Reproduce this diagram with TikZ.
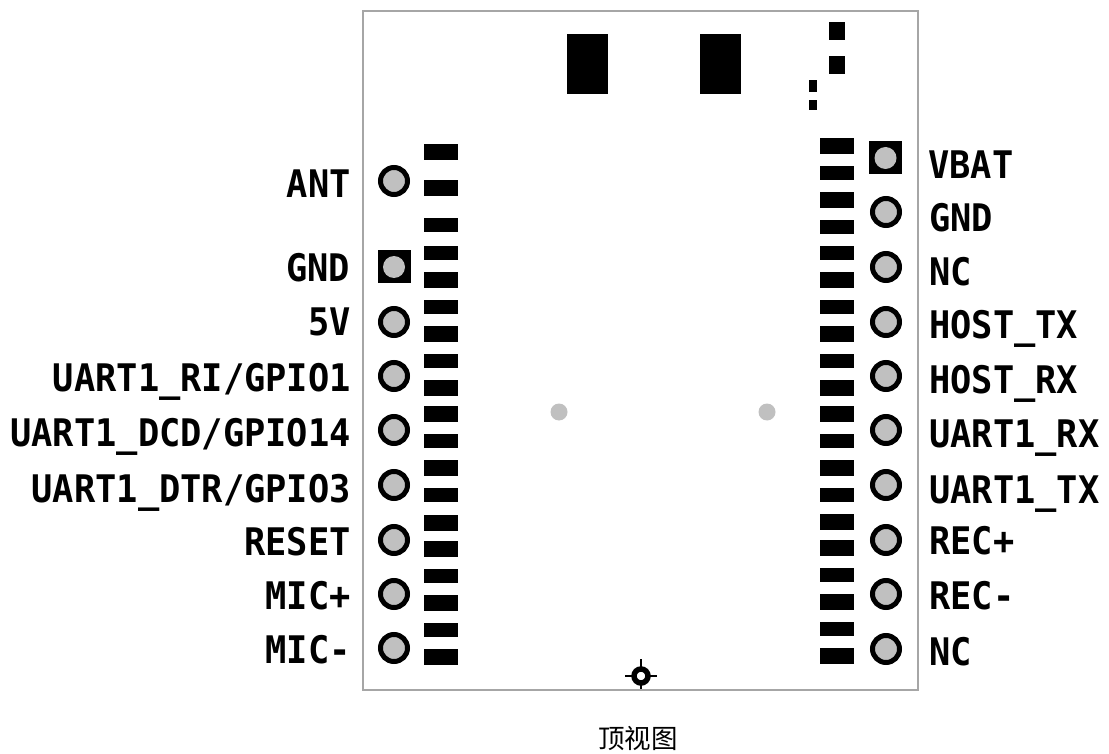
\documentclass[tikz,border=0pt]{standalone}
\usepackage{fontspec}
\usetikzlibrary{positioning}
\newfontfamily\pinfont[FakeStretch=0.93]{DejaVu Sans Mono}
\newfontfamily\cjk{Noto Sans CJK SC}
\definecolor{boardgray}{HTML}{A6A6A6}
\definecolor{pingray}{HTML}{C0C0C0}
\tikzset{
  pinround/.style={circle, draw=black, fill=pingray, line width=5pt, minimum size=27pt, inner sep=0pt},
  pinsquare/.style={rectangle, draw=none, fill=black, minimum size=33pt, inner sep=0pt},
  pinlabel/.style={font=\pinfont\bfseries\fontsize{38}{38}\selectfont, inner sep=0pt, text height=27pt, text depth=0pt}
}
\begin{document}
\begin{tikzpicture}[x=1pt, y=-1pt]

  \useasboundingbox (0,0) rectangle (1109,754);

  % Board outline
  \draw[boardgray, line width=2pt] (363,11) rectangle (918,690);

  % Top pads
  \fill (567,34) rectangle (608,94);
  \fill (700,34) rectangle (741,94);
  \fill (829,22) rectangle (845,40);
  \fill (829,56) rectangle (845,74);
  \fill (809,80) rectangle (817,92);
  \fill (809,100) rectangle (817,110);

  % Left row of pads
  \foreach \ya/\yb in {144/160, 180/196, 218/232, 246/260, 272/288, 300/314, 326/342,
      354/368, 380/396, 406/422, 434/448, 460/476, 488/502, 515/531, 541/557, 569/583,
      595/611, 623/637, 649/665}
    \fill (424,\ya) rectangle (458,\yb);

  % Right row of pads
  \foreach \ya/\yb in {138/154, 166/180, 192/208, 220/234, 246/260, 272/288, 300/314,
      326/342, 354/368, 380/396, 406/422, 434/448, 460/476, 488/502, 514/530, 540/556,
      568/582, 594/610, 622/636, 648/664}
    \fill (820,\ya) rectangle (854,\yb);

  % Square pins
  \node[pinsquare] (gndsq) at (394,267) {};
  \node[circle, fill=pingray, minimum size=22pt, inner sep=0pt] (gndhole) at (gndsq) {};
  \node[pinsquare] (vbatsq) at (885.5,158) {};
  \node[circle, fill=pingray, minimum size=22pt, inner sep=0pt] (vbathole) at (vbatsq) {};

  % Left pins and labels
  \node[pinlabel, left=27pt of gndsq, yshift=-1pt] (gndlabel) {GND};
  \foreach \name/\yy/\shift/\txt in {ant/181/-3/ANT, five/322/0/5V, ri/376/-2/{UART1\_RI/GPIO1},
      dcd/430/-3/{UART1\_DCD/GPIO14}, dtr/485/-4/{UART1\_DTR/GPIO3}, reset/540/-2/RESET,
      micp/594/-2/MIC+, micn/648/-2/MIC-}
  {
    \node[pinround] (\name) at (394,\yy) {};
    \node[pinlabel, left=27pt of \name, yshift=\shift pt] (\name label) {\txt};
  }

  % Right pins and labels
  \node[pinlabel, right=26pt of vbatsq, yshift=-7pt] (vbatlabel) {VBAT};
  \foreach \name/\yy/\shift/\txt in {rgnd/212/-6/GND, nca/267/-5/NC, htx/322/-3/HOST\_TX,
      hrx/376/-4/HOST\_RX, urx/430/-4/UART1\_RX, utx/485/-5/UART1\_TX, recp/540/-1/REC+,
      recn/594/-2/REC-, ncb/649/-3/NC}
  {
    \node[pinround] (\name) at (886,\yy) {};
    \node[pinlabel, right=27pt of \name, yshift=\shift pt] (\name label) {\txt};
  }

  % Mounting holes
  \fill[pingray] (559,412) circle (8.5);
  \fill[pingray] (767,412) circle (8.5);

  % Target mark
  \coordinate (mark) at (641,676);
  \draw[line width=1.5pt] (625,676) -- (657,676);
  \draw[line width=1.5pt] (641,659) -- (641,689);
  \draw[fill=white, line width=5.5pt] (mark) circle (7);

  % Title
  \node[font=\cjk\fontsize{26.5}{26.5}\selectfont, inner sep=0pt] (title) at (638,738) {顶视图};

\end{tikzpicture}
\end{document}
